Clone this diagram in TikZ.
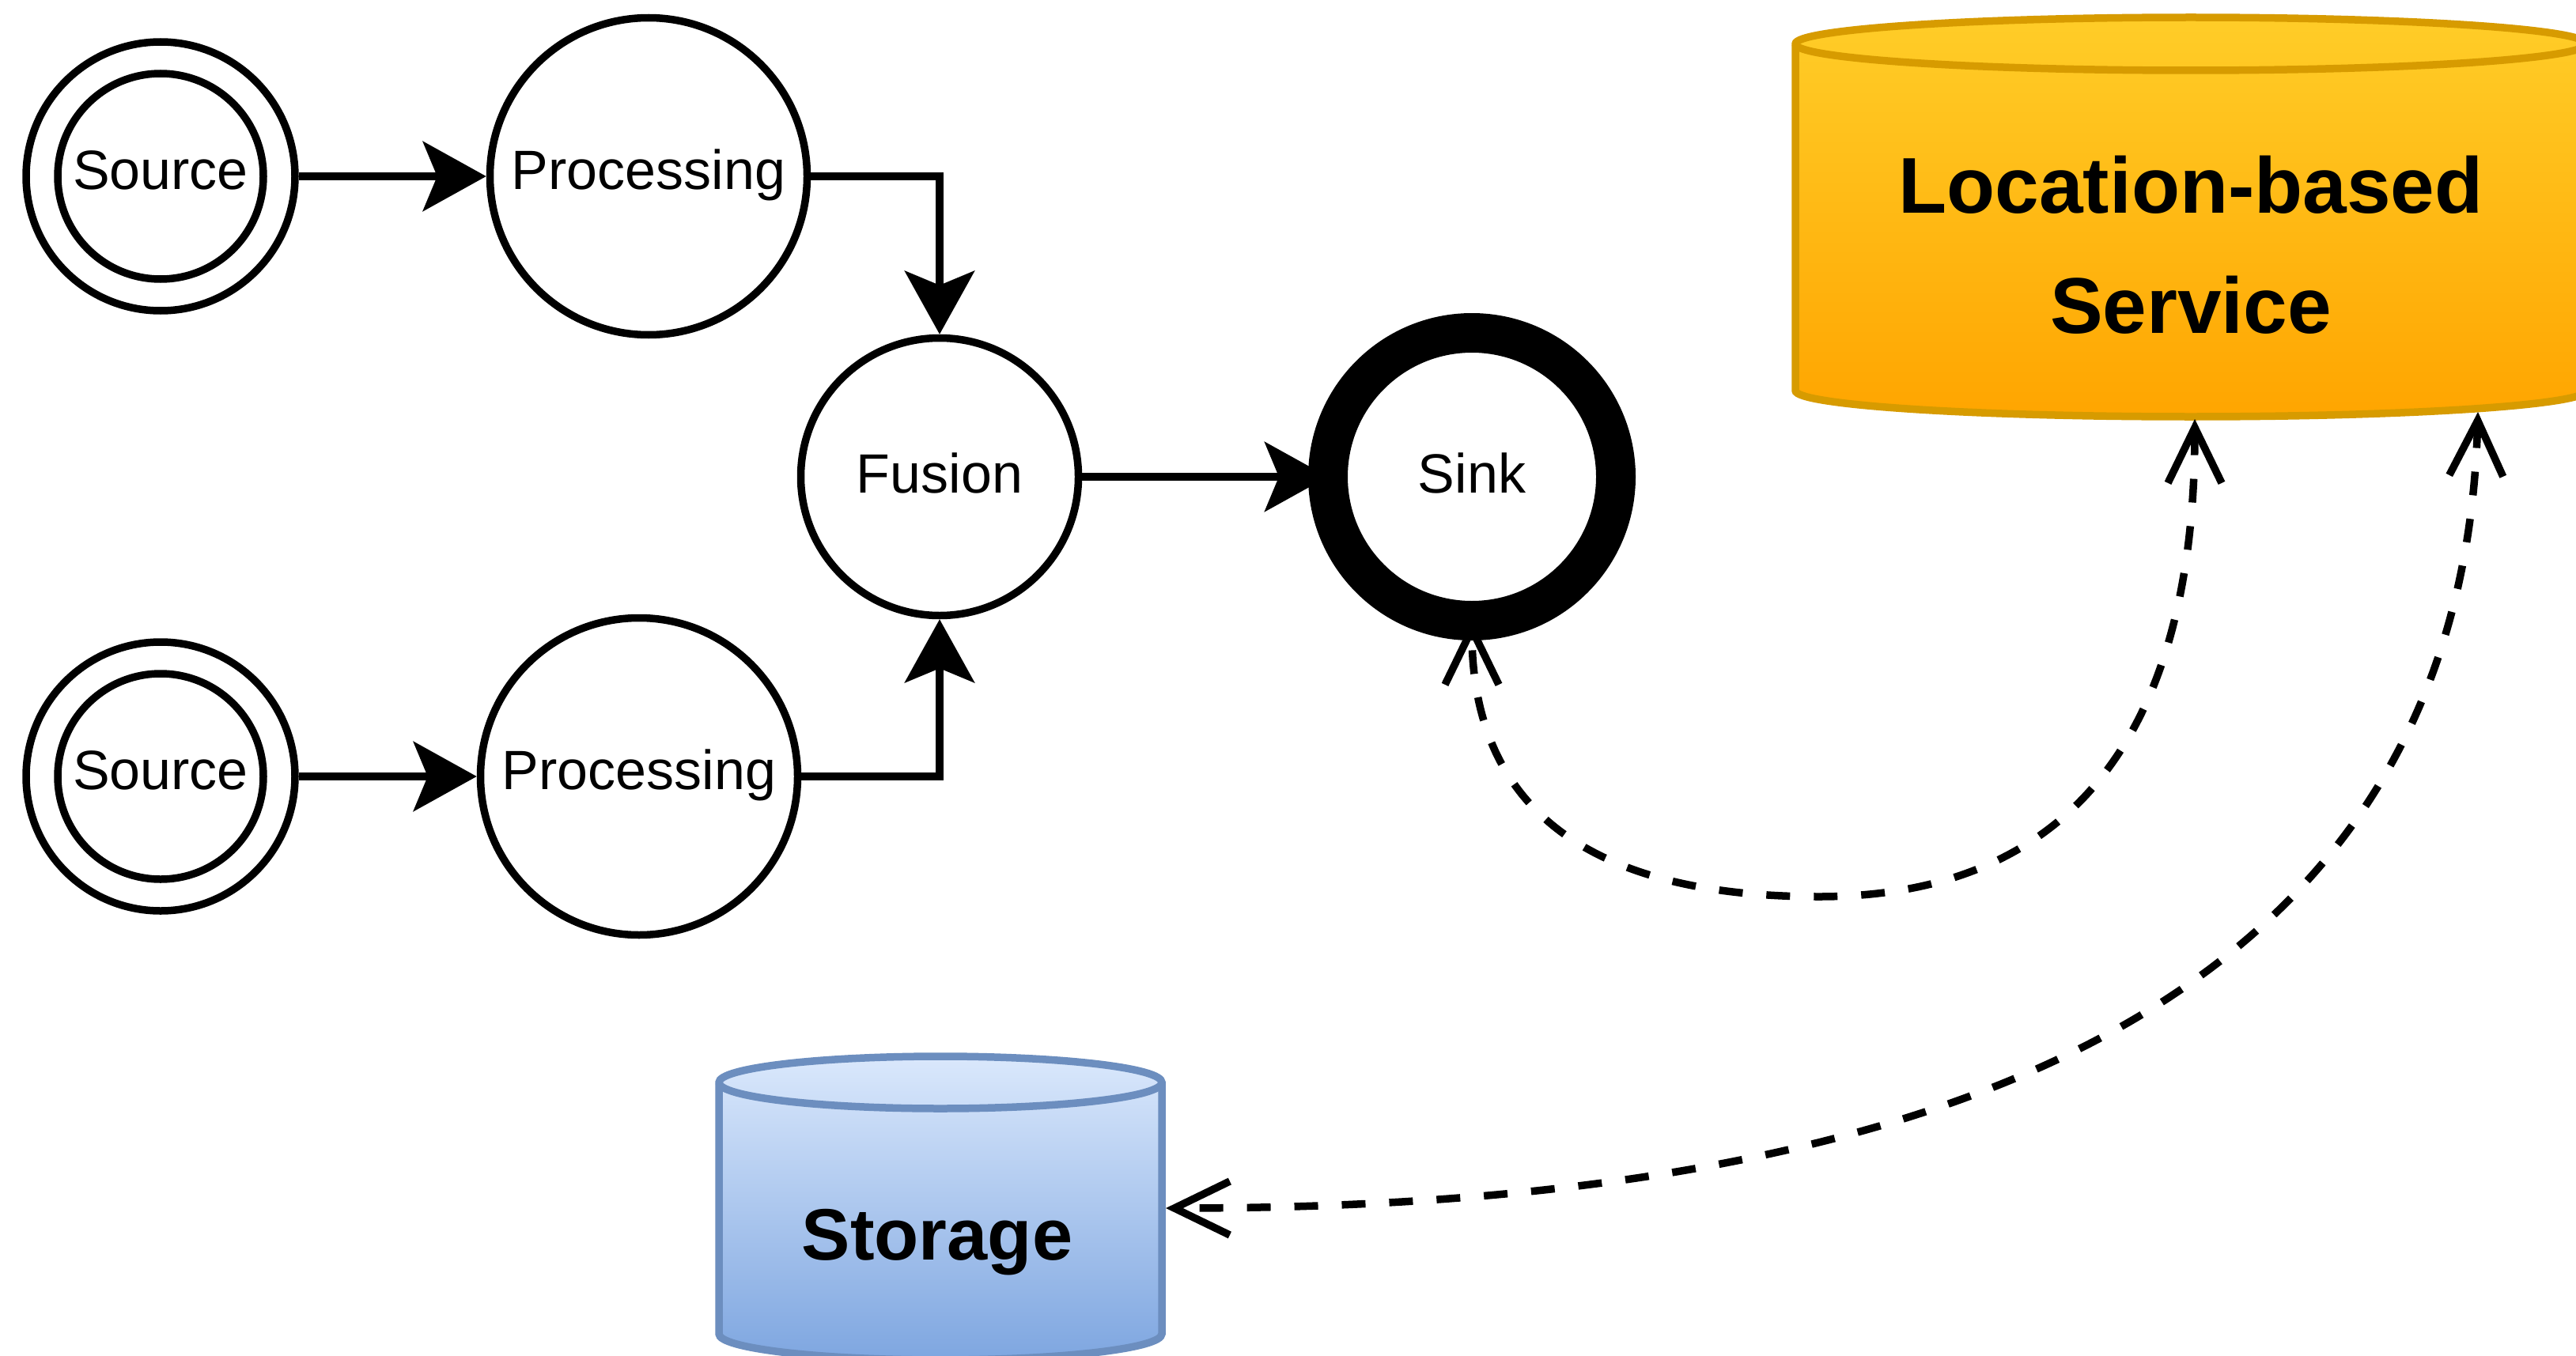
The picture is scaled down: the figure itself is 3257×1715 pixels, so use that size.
\documentclass[tikz,border=0pt]{standalone}
\usepackage{fontspec}
\setmainfont{Liberation Sans}
\usetikzlibrary{arrows.meta}
\definecolor{lbsTop}{HTML}{FFCD28}
\definecolor{lbsBot}{HTML}{FFA500}
\definecolor{lbsLine}{HTML}{D79B00}
\definecolor{stoTop}{HTML}{DAE8FC}
\definecolor{stoBot}{HTML}{7EA6E0}
\definecolor{stoLine}{HTML}{6C8EBF}
\begin{document}
\begin{tikzpicture}[x=1pt,y=1pt,
  every node/.style={inner sep=0pt},
  state/.style={circle, draw, line width=9.5pt, fill=white,
    font=\fontsize{70}{84}\selectfont, text height=50pt, text depth=18pt},
  flow/.style={line width=9.5pt, -{Stealth[length=80pt, width=88pt, inset=18pt]}},
  link/.style={line width=9.5pt, dash pattern=on 30pt off 30pt, {Straight Barb[length=70pt, width=68pt, sharp]}-{Straight Barb[length=70pt, width=68pt, sharp]}},
  cyl/.style={line width=9.5pt}
]
\useasboundingbox (0,0) rectangle (3257,-1715);
\clip (0,0) rectangle (3257,-1715);
\fill[white] (0,0) rectangle (3257,-1715);

% Location-based service cylinder
\path[cyl, draw=lbsLine, top color=lbsTop, bottom color=lbsBot]
  (2270,-55.5) -- (2270,-494)
  arc[start angle=180, end angle=360, x radius=500, y radius=33]
  -- (3270,-55.5)
  arc[start angle=0, end angle=180, x radius=500, y radius=33.5] -- cycle;
\draw[cyl, lbsLine] (2270,-55.5) arc[start angle=180, end angle=360, x radius=500, y radius=33.5];
\node[font=\bfseries\fontsize{100}{152}\selectfont, align=center] (lbs) at (2770,-309.5) {Location-based\\Service};
\coordinate (lbsA) at (2775,-530);
\coordinate (lbsB) at (3133,-521);

% Storage cylinder
\path[cyl, draw=stoLine, top color=stoTop, bottom color=stoBot]
  (909,-1369) -- (909,-1687)
  arc[start angle=180, end angle=360, x radius=280, y radius=33]
  -- (1469,-1369)
  arc[start angle=0, end angle=180, x radius=280, y radius=33] -- cycle;
\draw[cyl, stoLine] (909,-1369) arc[start angle=180, end angle=360, x radius=280, y radius=33];
\node[font=\bfseries\fontsize{92}{110}\selectfont, anchor=base] (sto) at (1185,-1593) {Storage};
\coordinate (stoR) at (1474,-1528);

% processing graph
\node[state, minimum size=340pt] (src1) at (203,-223) {Source};
\draw[line width=9.5pt] (src1.center) circle[radius=130];
\node[state, minimum size=401pt] (proc1) at (820,-223) {Processing};
\node[state, minimum size=351pt, text depth=10pt] (fusion) at (1188,-603) {Fusion};
\node[state, minimum size=364pt, line width=50pt, outer sep=0pt, text depth=10pt] (sink) at (1861,-603) {Sink};
\node[state, minimum size=340pt] (src2) at (203,-982) {Source};
\draw[line width=9.5pt] (src2.center) circle[radius=130];
\node[state, minimum size=401pt] (proc2) at (808,-982) {Processing};

\draw[flow] (src1.east) -- (proc1.west);
\draw[flow] (src2.east) -- (proc2.west);
\draw[flow] (proc1.east) -| (fusion.north);
\draw[flow] (proc2.east) -| (fusion.south);
\draw[flow] (fusion.east) -- (sink.west);

% service links
\coordinate (bendA) at (2300,-1134);
\draw[link] (lbsA) .. controls +(0,-420) and +(300,0) .. (bendA)
  .. controls +(-300,0) and +(0,-230) .. (sink.south);
\draw[link] (lbsB) .. controls +(-23,-829) and +(827,0) .. (stoR);
\end{tikzpicture}
\end{document}
